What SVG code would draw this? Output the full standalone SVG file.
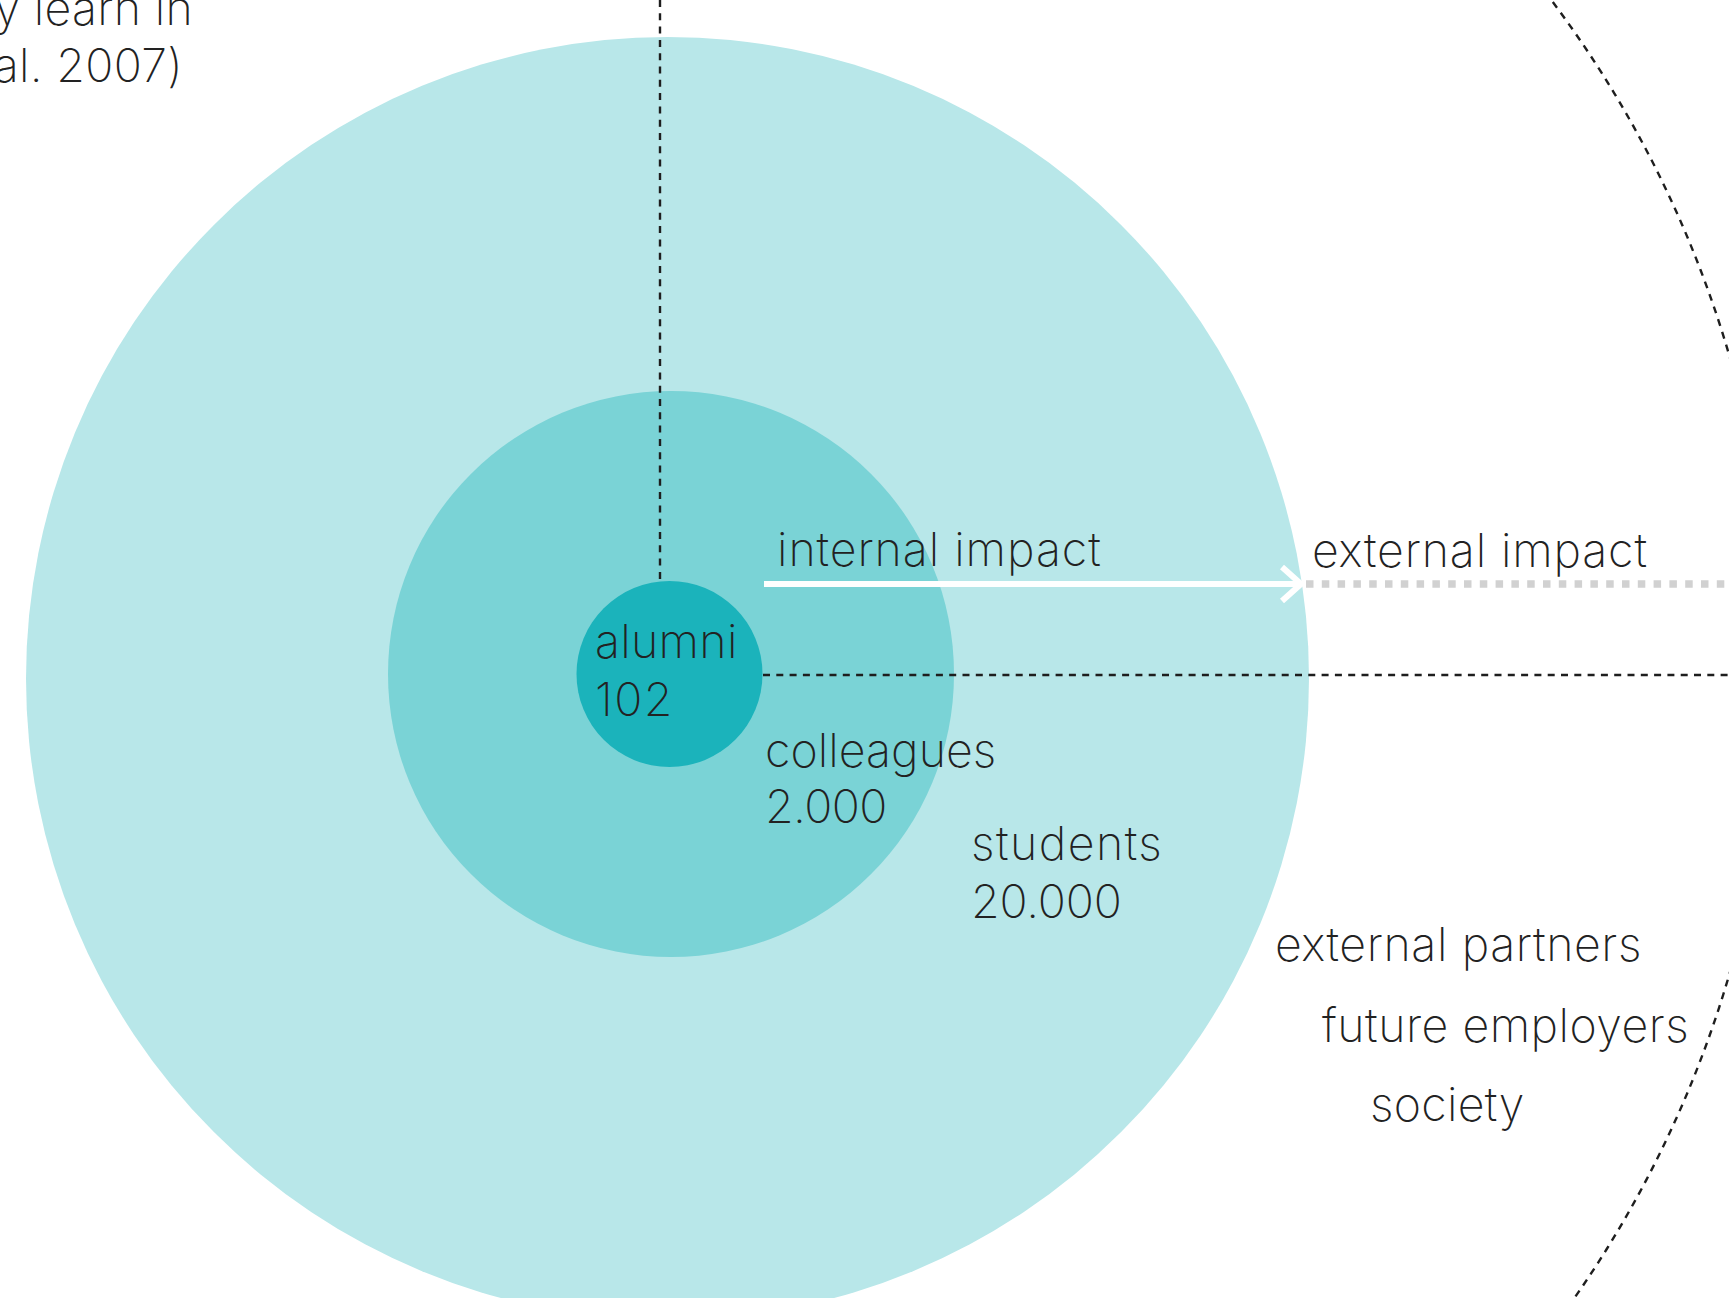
<svg xmlns="http://www.w3.org/2000/svg" width="1729" height="1298" viewBox="0 0 1729 1298">
<style>
.t{font-family:Inter,"Noto Sans","Liberation Sans",sans-serif;font-weight:240;font-size:46.5px;letter-spacing:0.3px;fill:#222}
.dash{fill:none;stroke:#1e1e1e;stroke-width:2.4;stroke-dasharray:7 6.3}
</style>
<rect width="1729" height="1298" fill="#ffffff"/>
<g id="students-circle"><circle cx="667.5" cy="678.5" r="641.5" fill="#b8e7e9"/></g>
<g id="colleagues-circle"><circle cx="671" cy="674" r="283" fill="#7ad3d6"/></g>
<g id="alumni-circle"><circle cx="669.5" cy="674" r="93" fill="#1bb3bb"/></g>
<g id="outer-ring"><circle cx="667.5" cy="665" r="1106" class="dash" stroke-width="3" stroke-dasharray="8 6.5"/></g>
<g id="connectors">
<line x1="660" y1="0" x2="660" y2="581" class="dash"/>
<line x1="763" y1="675" x2="1729" y2="675" class="dash"/>
<line x1="764" y1="584" x2="1300" y2="584" stroke="#ffffff" stroke-width="6"/>
<polyline points="1282,567 1301,584 1282,601" fill="none" stroke="#ffffff" stroke-width="6"/>
<line x1="1306" y1="584" x2="1729" y2="584" stroke="#d1d1d1" stroke-width="7.5" stroke-dasharray="7.5 8.3"/>
</g>
<g id="labels">
<text class="t" x="193" y="25" text-anchor="end">y learn in</text>
<text class="t" x="183" y="82" text-anchor="end">al. 2007)</text>
<text class="t" x="777" y="566" style="letter-spacing:0.95px">internal impact</text>
<text class="t" x="1312" y="567" style="letter-spacing:0.85px">external impact</text>
<text class="t" x="595" y="658">alumni</text>
<text class="t" x="595" y="716" style="letter-spacing:1.5px">102</text>
<text class="t" x="765" y="767" style="letter-spacing:0.05px">colleagues</text>
<text class="t" x="765" y="823" style="letter-spacing:-0.6px">2.000</text>
<text class="t" x="971" y="860" style="letter-spacing:1.5px">students</text>
<text class="t" x="971" y="918" style="letter-spacing:-0.15px">20.000</text>
<text class="t" x="1275" y="961" style="letter-spacing:0.6px">external partners</text>
<text class="t" x="1322" y="1042" style="letter-spacing:0.5px">future employers</text>
<text class="t" x="1370" y="1121">society</text>
</g>
</svg>
